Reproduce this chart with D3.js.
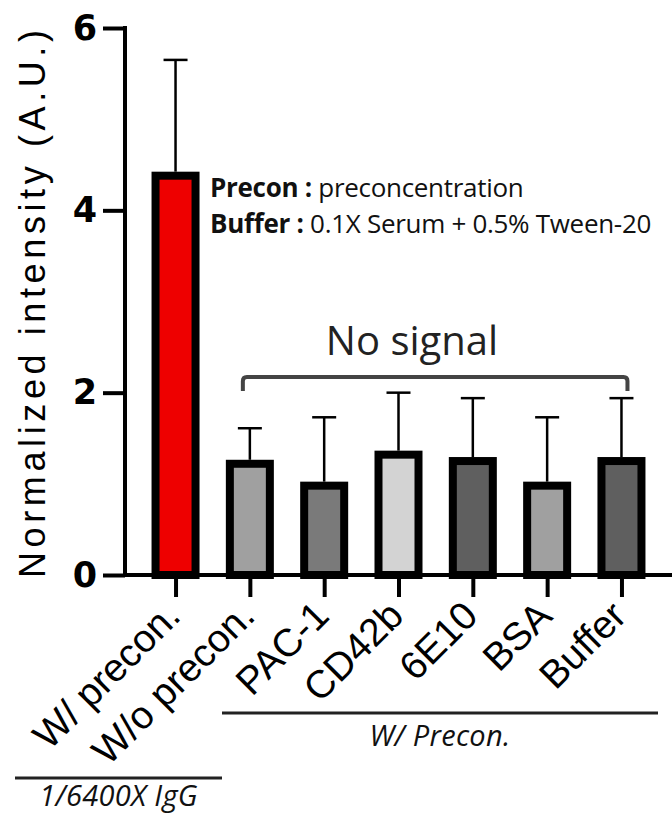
<!DOCTYPE html>
<html>
<head>
<meta charset="utf-8">
<script src="https://cdn.jsdelivr.net/npm/d3@7"></script>
<style>
  body { margin: 0; background: #fff; }
  svg { display: block; }
</style>
</head>
<body>
<script>
const w = 672;
const h = 818;

// data
const categories = ["W/ precon.", "W/o precon.", "PAC-1", "CD42b", "6E10", "BSA", "Buffer"];
const means = [4.38, 1.22, 0.98, 1.32, 1.25, 0.98, 1.25];
const errors = [1.27, 0.39, 0.75, 0.68, 0.69, 0.75, 0.69];
const fills = ["#ee0000", "#a0a0a0", "#7a7a7a", "#d3d3d3", "#5f5f5f", "#a0a0a0", "#5f5f5f"];
const yTicks = [0, 2, 4, 6];

const left = 125, right = 672;
const y0 = 575, yTop = 28;

const svg = d3.select("body")
  .append("svg")
  .attr("width", w)
  .attr("height", h);

let xScale = d3.scalePoint()
  .domain(categories)
  .range([left, right])
  .padding(0.68);

let yScale = d3.scaleLinear()
  .domain([0, 6])
  .range([y0, yTop]);

// bars
const barW = 40;
svg.selectAll("rect.bar")
  .data(categories)
  .enter()
  .append("rect")
  .attr("class", "bar")
  .attr("x", d => xScale(d) - barW / 2)
  .attr("y", (d, i) => yScale(means[i]))
  .attr("width", barW)
  .attr("height", (d, i) => yScale(0) - yScale(means[i]))
  .attr("fill", (d, i) => fills[i])
  .attr("stroke", "#000")
  .attr("stroke-width", 8);

// error bars (upper only)
const err = svg.append("g").attr("id", "errors");
categories.forEach((c, i) => {
  let cx = xScale(c);
  let top = yScale(means[i] + errors[i]);
  err.append("line")
    .attr("x1", cx).attr("x2", cx)
    .attr("y1", yScale(means[i]) - 4).attr("y2", top)
    .attr("stroke", "#000").attr("stroke-width", 2.5);
  err.append("line")
    .attr("x1", cx - 12).attr("x2", cx + 12)
    .attr("y1", top).attr("y2", top)
    .attr("stroke", "#000").attr("stroke-width", 2.5);
});

// y axis
let yAxis = d3.axisLeft(yScale)
  .tickValues(yTicks)
  .tickSize(22)
  .tickSizeOuter(0)
  .tickPadding(6)
  .tickFormat(d3.format("d"));

let yAxisGroup = svg.append("g")
  .attr("id", "y-axis")
  .attr("transform", `translate(${left}, 0)`)
  .call(yAxis);
yAxisGroup.select(".domain").attr("stroke-width", 4).attr("d", `M0,${yTop - 2}V${y0}`);
yAxisGroup.selectAll(".tick line").attr("stroke-width", 4);
yAxisGroup.selectAll(".tick text")
  .attr("font-family", "'DejaVu Sans', sans-serif")
  .attr("font-weight", "bold")
  .attr("font-size", 35)
  .attr("fill", "#000");

// x axis
let xAxis = d3.axisBottom(xScale)
  .tickSize(22)
  .tickSizeOuter(0)
  .tickFormat("");

let xAxisGroup = svg.append("g")
  .attr("id", "x-axis")
  .attr("transform", `translate(0, ${y0})`)
  .call(xAxis);
xAxisGroup.select(".domain").attr("stroke-width", 4).attr("d", `M${left - 2},0H${right}`);
xAxisGroup.selectAll(".tick line").attr("stroke-width", 4);

// rotated category labels
svg.append("g")
  .attr("id", "x-labels")
  .selectAll("text")
  .data(categories)
  .enter()
  .append("text")
  .attr("transform", d => `translate(${xScale(d) + 7}, 618) rotate(-45)`)
  .attr("text-anchor", "end")
  .attr("font-family", "'Liberation Sans', Arial, sans-serif")
  .attr("font-size", 39)
  .attr("fill", "#000")
  .text(d => d);

// y axis title
svg.append("text")
  .attr("transform", "translate(45, 304) rotate(-90)")
  .attr("text-anchor", "middle")
  .attr("font-family", "'Liberation Sans', Arial, sans-serif")
  .attr("font-size", 36)
  .attr("textLength", 548)
  .attr("lengthAdjust", "spacing")
  .attr("fill", "#000")
  .text("Normalized intensity (A.U.)");

// annotation
const note = svg.append("g")
  .attr("font-family", "'Open Sans', 'Noto Sans', sans-serif")
  .attr("font-size", 26)
  .attr("fill", "#111");
let l1 = note.append("text").attr("x", 210).attr("y", 197).attr("letter-spacing", -0.3);
l1.append("tspan").attr("font-weight", "bold").text("Precon : ");
l1.append("tspan").text("preconcentration");
let l2 = note.append("text").attr("x", 210).attr("y", 233).attr("letter-spacing", -0.3);
l2.append("tspan").attr("font-weight", "bold").text("Buffer : ");
l2.append("tspan").text("0.1X Serum + 0.5% Tween-20");

// "No signal" bracket
const bx1 = xScale(categories[1]) - 7, bx2 = xScale(categories[6]) + 6;
svg.append("path")
  .attr("d", `M${bx1},391 V381 Q${bx1},377 ${bx1 + 4},377 H${bx2 - 4} Q${bx2},377 ${bx2},381 V391`)
  .attr("fill", "none")
  .attr("stroke", "#444")
  .attr("stroke-width", 4);
svg.append("text")
  .attr("x", 412)
  .attr("y", 355)
  .attr("text-anchor", "middle")
  .attr("font-family", "'Open Sans', 'Noto Sans', sans-serif")
  .attr("font-size", 40)
  .attr("fill", "#222")
  .text("No signal");

// group lines under the labels
const groups = [
  { label: "W/ Precon.", x1: 222, x2: 658, ly: 713, ty: 746 },
  { label: "1/6400X IgG", x1: 15, x2: 222, ly: 778, ty: 806 }
];
groups.forEach(g => {
  svg.append("line")
    .attr("x1", g.x1).attr("x2", g.x2)
    .attr("y1", g.ly).attr("y2", g.ly)
    .attr("stroke", "#222").attr("stroke-width", 3);
  svg.append("text")
    .attr("x", (g.x1 + g.x2) / 2)
    .attr("y", g.ty)
    .attr("text-anchor", "middle")
    .attr("font-family", "'Open Sans', 'Noto Sans', sans-serif")
    .attr("font-style", "italic")
    .attr("font-size", 29)
    .attr("letter-spacing", 0.3)
    .attr("fill", "#111")
    .text(g.label);
});
</script>
</body>
</html>
